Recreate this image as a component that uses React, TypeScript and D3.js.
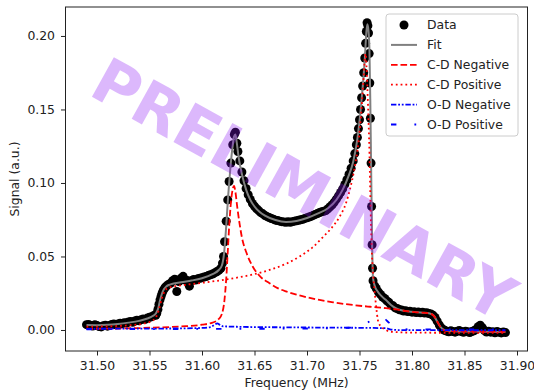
import React, { useEffect, useRef } from 'react';
import * as d3 from 'd3';

// measured spectrum: [frequency (MHz), signal (a.u.)]
const dataPoints: [number, number][] = [
  [31.490, 0.0036], [31.492, 0.0038], [31.494, 0.0031], [31.496, 0.0027], [31.498, 0.0035],
  [31.500, 0.0030], [31.502, 0.0024], [31.504, 0.0021], [31.506, 0.0028], [31.508, 0.0033],
  [31.510, 0.0026], [31.512, 0.0030], [31.514, 0.0037], [31.516, 0.0041], [31.518, 0.0035],
  [31.520, 0.0040], [31.522, 0.0046], [31.524, 0.0043], [31.526, 0.0050], [31.528, 0.0047],
  [31.530, 0.0054], [31.532, 0.0058], [31.534, 0.0052], [31.536, 0.0061], [31.538, 0.0066],
  [31.540, 0.0063], [31.542, 0.0070], [31.544, 0.0075], [31.546, 0.0072], [31.548, 0.0081],
  [31.550, 0.0086], [31.552, 0.0090], [31.554, 0.0098],
  [31.556, 0.0100], [31.557, 0.0115], [31.558, 0.0140], [31.559, 0.0175], [31.560, 0.0205],
  [31.561, 0.0228], [31.562, 0.0250], [31.563, 0.0268], [31.564, 0.0280], [31.565, 0.0290],
  [31.566, 0.0298], [31.568, 0.0310], [31.570, 0.0318],
  [31.572, 0.0335], [31.574, 0.0345], [31.576, 0.0262], [31.578, 0.0330], [31.580, 0.0352],
  [31.582, 0.0365], [31.584, 0.0340], [31.586, 0.0336], [31.588, 0.0298], [31.590, 0.0335],
  [31.592, 0.0344], [31.594, 0.0340], [31.596, 0.0348], [31.598, 0.0352], [31.600, 0.0356],
  [31.602, 0.0360], [31.604, 0.0364], [31.606, 0.0370], [31.608, 0.0376], [31.610, 0.0380],
  [31.612, 0.0388], [31.614, 0.0396], [31.616, 0.0405], [31.618, 0.0420],
  [31.6195, 0.0455], [31.6205, 0.0500], [31.6215, 0.0600], [31.6230, 0.0740], [31.6245, 0.0885],
  [31.6258, 0.1010], [31.6275, 0.1135], [31.6293, 0.1260], [31.6308, 0.1330], [31.6318, 0.1345],
  [31.6332, 0.1270], [31.6342, 0.1214],
  [31.636, 0.1150], [31.638, 0.1075], [31.640, 0.1015], [31.642, 0.0962], [31.644, 0.0920],
  [31.646, 0.0888], [31.648, 0.0860], [31.650, 0.0842], [31.652, 0.0825], [31.654, 0.0812],
  [31.656, 0.0798], [31.658, 0.0790], [31.660, 0.0779], [31.662, 0.0771], [31.664, 0.0765],
  [31.666, 0.0758], [31.668, 0.0754], [31.670, 0.0747], [31.672, 0.0745], [31.674, 0.0740],
  [31.676, 0.0737], [31.678, 0.0735], [31.680, 0.0732], [31.682, 0.0736], [31.684, 0.0733],
  [31.686, 0.0737], [31.688, 0.0740], [31.690, 0.0743], [31.692, 0.0746], [31.694, 0.0750],
  [31.696, 0.0753], [31.698, 0.0759], [31.700, 0.0763], [31.702, 0.0768], [31.704, 0.0774],
  [31.706, 0.0780], [31.708, 0.0786], [31.710, 0.0792], [31.712, 0.0799], [31.714, 0.0804],
  [31.716, 0.0808],
  [31.718, 0.0812], [31.720, 0.0825], [31.722, 0.0838], [31.724, 0.0852], [31.726, 0.0870],
  [31.728, 0.0890], [31.730, 0.0912], [31.732, 0.0935], [31.734, 0.0960], [31.736, 0.0990],
  [31.738, 0.1022], [31.740, 0.1060], [31.742, 0.1100], [31.744, 0.1150], [31.7455, 0.1200],
  [31.747, 0.1260], [31.748, 0.1310], [31.749, 0.1370], [31.750, 0.1430], [31.751, 0.1500],
  [31.752, 0.1580], [31.753, 0.1660], [31.754, 0.1750], [31.755, 0.1850], [31.7558, 0.1950],
  [31.7565, 0.2030], [31.7572, 0.2090], [31.7580, 0.2070], [31.7586, 0.2020], [31.7592, 0.1880],
  [31.7598, 0.1680], [31.7604, 0.1440], [31.7610, 0.1135], [31.7615, 0.0840], [31.7620, 0.0580],
  [31.7624, 0.0420], [31.7629, 0.0335],
  [31.7645, 0.0300], [31.766, 0.0282], [31.768, 0.0258], [31.770, 0.0242], [31.772, 0.0224],
  [31.774, 0.0214], [31.776, 0.0198], [31.778, 0.0188], [31.780, 0.0170], [31.782, 0.0164],
  [31.784, 0.0150], [31.786, 0.0146], [31.788, 0.0137], [31.790, 0.0136], [31.792, 0.0129],
  [31.794, 0.0130], [31.796, 0.0125], [31.798, 0.0127], [31.800, 0.0121], [31.802, 0.0124],
  [31.804, 0.0119], [31.806, 0.0122], [31.808, 0.0117], [31.810, 0.0120], [31.812, 0.0115],
  [31.814, 0.0118], [31.816, 0.0112], [31.818, 0.0109], [31.820, 0.0100], [31.822, 0.0085],
  [31.824, 0.0060], [31.826, 0.0034], [31.828, 0.0014], [31.830, 0.0002],
  [31.831, -0.0002], [31.833, -0.0008], [31.835, -0.0012], [31.837, -0.0006], [31.839, -0.0010],
  [31.841, -0.0015], [31.843, -0.0009], [31.845, -0.0004], [31.847, -0.0011], [31.849, -0.0016],
  [31.851, -0.0008], [31.853, -0.0012], [31.855, -0.0018], [31.857, -0.0010], [31.859, -0.0005],
  [31.861, 0.0004], [31.863, 0.0022], [31.865, 0.0032], [31.867, 0.0016], [31.869, -0.0004],
  [31.871, -0.0014], [31.873, -0.0009], [31.875, -0.0015], [31.877, -0.0012], [31.879, -0.0019],
  [31.881, -0.0011], [31.883, -0.0016], [31.885, -0.0020], [31.887, -0.0013], [31.889, -0.0018],
];

// total fit
const fitPoints: [number, number][] = [
  [31.490, 0.0034], [31.500, 0.0033], [31.510, 0.0035], [31.520, 0.0041], [31.530, 0.0050],
  [31.540, 0.0062], [31.548, 0.0078], [31.553, 0.0095], [31.556, 0.0112], [31.558, 0.0140],
  [31.560, 0.0200], [31.562, 0.0250], [31.564, 0.0280], [31.566, 0.0296], [31.570, 0.0310],
  [31.580, 0.0325], [31.590, 0.0336], [31.600, 0.0352], [31.610, 0.0380], [31.616, 0.0408],
  [31.619, 0.0440], [31.621, 0.0520], [31.623, 0.0700], [31.625, 0.0920], [31.627, 0.1100],
  [31.629, 0.1240], [31.6305, 0.1315], [31.6318, 0.1330], [31.633, 0.1280], [31.635, 0.1170],
  [31.638, 0.1060], [31.642, 0.0955], [31.646, 0.0885], [31.650, 0.0840], [31.655, 0.0803],
  [31.660, 0.0778], [31.670, 0.0748], [31.680, 0.0735], [31.690, 0.0742], [31.700, 0.0762],
  [31.710, 0.0792], [31.720, 0.0828], [31.728, 0.0885], [31.734, 0.0955], [31.740, 0.1055],
  [31.744, 0.1145], [31.748, 0.1300], [31.751, 0.1490], [31.753, 0.1650], [31.755, 0.1840],
  [31.7565, 0.2020], [31.7575, 0.2080], [31.7585, 0.2040], [31.7595, 0.1900], [31.7603, 0.1550],
  [31.761, 0.1150], [31.762, 0.0600], [31.7628, 0.0360], [31.7645, 0.0300], [31.767, 0.0265],
  [31.771, 0.0230], [31.775, 0.0205], [31.780, 0.0170], [31.785, 0.0147], [31.790, 0.0134],
  [31.800, 0.0124], [31.810, 0.0118], [31.817, 0.0112], [31.821, 0.0095], [31.824, 0.0058],
  [31.827, 0.0022], [31.830, 0.0003], [31.835, -0.0006], [31.845, -0.0010], [31.860, -0.0011],
  [31.870, -0.0012], [31.880, -0.0013], [31.889, -0.0014],
];

const cdNegative: [number, number][] = [
  [31.490, 0.0008], [31.520, 0.0010], [31.550, 0.0015], [31.580, 0.0024], [31.600, 0.0036],
  [31.610, 0.0050], [31.616, 0.0075], [31.619, 0.0110], [31.6214, 0.0204], [31.623, 0.0340],
  [31.6246, 0.0540], [31.626, 0.0720], [31.6278, 0.0885], [31.6293, 0.0960], [31.6305, 0.0980],
  [31.6318, 0.0940], [31.6335, 0.0840], [31.6357, 0.0727], [31.638, 0.0630], [31.6421, 0.0530],
  [31.6484, 0.0430], [31.656, 0.0360], [31.6643, 0.0318], [31.672, 0.0285], [31.680, 0.0262],
  [31.690, 0.0240], [31.700, 0.0222], [31.7119, 0.0204], [31.725, 0.0188], [31.7436, 0.0170],
  [31.760, 0.0158], [31.7754, 0.0148], [31.785, 0.0140], [31.795, 0.0128], [31.805, 0.0120],
  [31.815, 0.0114], [31.819, 0.0106], [31.822, 0.0085], [31.825, 0.0045], [31.828, 0.0012],
  [31.831, -0.0004], [31.840, -0.0008], [31.860, -0.0010], [31.889, -0.0012],
];

const cdPositive: [number, number][] = [
  [31.490, 0.0022], [31.510, 0.0025], [31.530, 0.0032], [31.545, 0.0045], [31.552, 0.0060],
  [31.556, 0.0085], [31.559, 0.0140], [31.562, 0.0220], [31.565, 0.0270], [31.568, 0.0288],
  [31.575, 0.0298], [31.590, 0.0312], [31.610, 0.0330], [31.630, 0.0352], [31.650, 0.0380],
  [31.665, 0.0410], [31.680, 0.0450], [31.693, 0.0500], [31.705, 0.0560], [31.715, 0.0630],
  [31.724, 0.0700], [31.731, 0.0770], [31.737, 0.0860], [31.741, 0.0960], [31.745, 0.1090],
  [31.748, 0.1220], [31.7505, 0.1380], [31.7525, 0.1560], [31.754, 0.1720], [31.755, 0.1840],
  [31.7558, 0.1880], [31.7566, 0.1800], [31.758, 0.1550], [31.7595, 0.1200], [31.7605, 0.0850],
  [31.7615, 0.0580], [31.763, 0.0380], [31.7652, 0.0204], [31.7683, 0.0046], [31.7752, 0.0000],
  [31.780, -0.0012], [31.800, -0.0018], [31.889, -0.0020],
];

const odNegative: [number, number][] = [
  [31.490, 0.0008], [31.530, 0.0009], [31.570, 0.0010], [31.600, 0.0014], [31.608, 0.0020],
  [31.612, 0.0035], [31.6145, 0.0045], [31.617, 0.0035], [31.620, 0.0025], [31.640, 0.0021],
  [31.680, 0.0018], [31.720, 0.0016], [31.760, 0.0014], [31.775, 0.0012], [31.780, 0.0003],
  [31.790, -0.0001], [31.889, -0.0002],
];

const odPositive: [number, number][] = [
  [31.490, 0.0005], [31.600, 0.0007], [31.700, 0.0010], [31.740, 0.0015], [31.752, 0.0025],
  [31.758, 0.0050], [31.763, 0.0080], [31.768, 0.0088], [31.773, 0.0080], [31.778, 0.0050],
  [31.783, 0.0020], [31.790, 0.0005], [31.889, 0.0003],
];

const xTicks = [31.50, 31.55, 31.60, 31.65, 31.70, 31.75, 31.80, 31.85, 31.90];
const yTicks = [0.00, 0.05, 0.10, 0.15, 0.20];
const legendLabels = ['Data', 'Fit', 'C-D Negative', 'C-D Positive', 'O-D Negative', 'O-D Positive'];

const FONT = 'DejaVu Sans, sans-serif';

const App: React.FC = () => {
  const svgRef = useRef<SVGSVGElement | null>(null);

  useEffect(() => {
    if (!svgRef.current) return;
    const svg = d3.select(svgRef.current);
    svg.selectAll('*').remove();

    const left = 65.5, right = 527.5, top = 7, bottom = 351;
    const x = d3.scaleLinear().domain([31.47, 31.91]).range([left, right]);
    const y = d3.scaleLinear().domain([-0.0143, 0.2197]).range([bottom, top]);

    const g = svg.append('g');

    // data markers
    g.append('g')
      .selectAll('circle')
      .data(dataPoints)
      .join('circle')
      .attr('cx', d => x(d[0]))
      .attr('cy', d => y(d[1]))
      .attr('r', 4.5)
      .attr('fill', '#000');

    const line = d3.line<[number, number]>()
      .x(d => x(d[0]))
      .y(d => y(d[1]))
      .curve(d3.curveMonotoneX);

    g.append('path').datum(fitPoints)
      .attr('fill', 'none').attr('stroke', '#808080').attr('stroke-width', 2)
      .attr('d', line);

    const comps = [
      { data: cdNegative, color: '#ff0000', dash: '6.6,2.9' },
      { data: cdPositive, color: '#ff0000', dash: '1.8,3' },
      { data: odNegative, color: '#0000ff', dash: '5.4,1.8,1.8,1.8,1.8,1.8' },
      { data: odPositive, color: '#0000ff', dash: '5.4,18,1.8,18' },
    ];
    comps.forEach(c => {
      g.append('path').datum(c.data)
        .attr('fill', 'none').attr('stroke', c.color).attr('stroke-width', 1.8)
        .attr('stroke-dasharray', c.dash)
        .attr('d', line);
    });

    // watermark
    g.append('text')
      .attr('transform', 'translate(87,94) rotate(29)')
      .attr('text-anchor', 'start')
      .attr('font-family', 'DejaVu Sans, sans-serif')
      .attr('font-weight', 'bold')
      .attr('font-size', 62)
      .attr('fill', 'rgb(140,20,245)')
      .attr('fill-opacity', 0.3)
      .text('PRELIMINARY');

    // axes
    const xAxis = d3.axisBottom(x).tickValues(xTicks).tickFormat(d3.format('.2f'))
      .tickSize(4.5).tickPadding(6).tickSizeOuter(0);
    const yAxis = d3.axisLeft(y).tickValues(yTicks).tickFormat(d3.format('.2f'))
      .tickSize(4.5).tickPadding(6).tickSizeOuter(0);

    const gx = svg.append('g').attr('transform', `translate(0,${bottom})`).call(xAxis);
    const gy = svg.append('g').attr('transform', `translate(${left},0)`).call(yAxis);
    [gx, gy].forEach(a => {
      a.select('.domain').remove();
      a.selectAll('text').attr('font-family', FONT).attr('font-size', 12.4).attr('fill', '#222');
      a.selectAll('line').attr('stroke', '#222').attr('stroke-width', 1);
    });

    svg.append('rect')
      .attr('x', left).attr('y', top)
      .attr('width', right - left).attr('height', bottom - top)
      .attr('fill', 'none').attr('stroke', '#222').attr('stroke-width', 1);

    svg.append('text')
      .attr('x', (left + right) / 2).attr('y', 387)
      .attr('text-anchor', 'middle')
      .attr('font-family', FONT).attr('font-size', 12.4).attr('fill', '#222')
      .text('Frequency (MHz)');

    svg.append('text')
      .attr('transform', `translate(19,${(top + bottom) / 2}) rotate(-90)`)
      .attr('text-anchor', 'middle')
      .attr('font-family', FONT).attr('font-size', 12.4).attr('fill', '#222')
      .text('Signal (a.u.)');

    // legend
    const lg = svg.append('g').attr('transform', 'translate(386,14)');
    lg.append('rect')
      .attr('width', 132).attr('height', 122).attr('rx', 3)
      .attr('fill', '#fff').attr('fill-opacity', 0.8)
      .attr('stroke', '#cccccc').attr('stroke-width', 1);

    const handles = [
      { type: 'dot' },
      { type: 'line', color: '#808080', dash: '', w: 2 },
      { type: 'line', color: '#ff0000', dash: comps[0].dash, w: 1.8 },
      { type: 'line', color: '#ff0000', dash: comps[1].dash, w: 1.8 },
      { type: 'line', color: '#0000ff', dash: comps[2].dash, w: 1.8 },
      { type: 'line', color: '#0000ff', dash: comps[3].dash, w: 1.8 },
    ];
    legendLabels.forEach((label, i) => {
      const cy = 11 + i * 19.9;
      const h = handles[i];
      if (h.type === 'dot') {
        lg.append('circle').attr('cx', 18).attr('cy', cy).attr('r', 4.5).attr('fill', '#000');
      } else {
        lg.append('line')
          .attr('x1', 5).attr('x2', 31).attr('y1', cy).attr('y2', cy)
          .attr('stroke', h.color!).attr('stroke-width', h.w!)
          .attr('stroke-dasharray', h.dash || null);
      }
      lg.append('text')
        .attr('x', 41).attr('y', cy).attr('dy', '0.35em')
        .attr('font-family', FONT).attr('font-size', 12.4).attr('fill', '#222')
        .text(label);
    });
  }, []);

  return (
    <div style={{ position: 'fixed', left: 0, top: 0, background: '#fff' }}>
      <svg ref={svgRef} width={534} height={391} style={{ display: 'block' }} />
    </div>
  );
};

export default App;
